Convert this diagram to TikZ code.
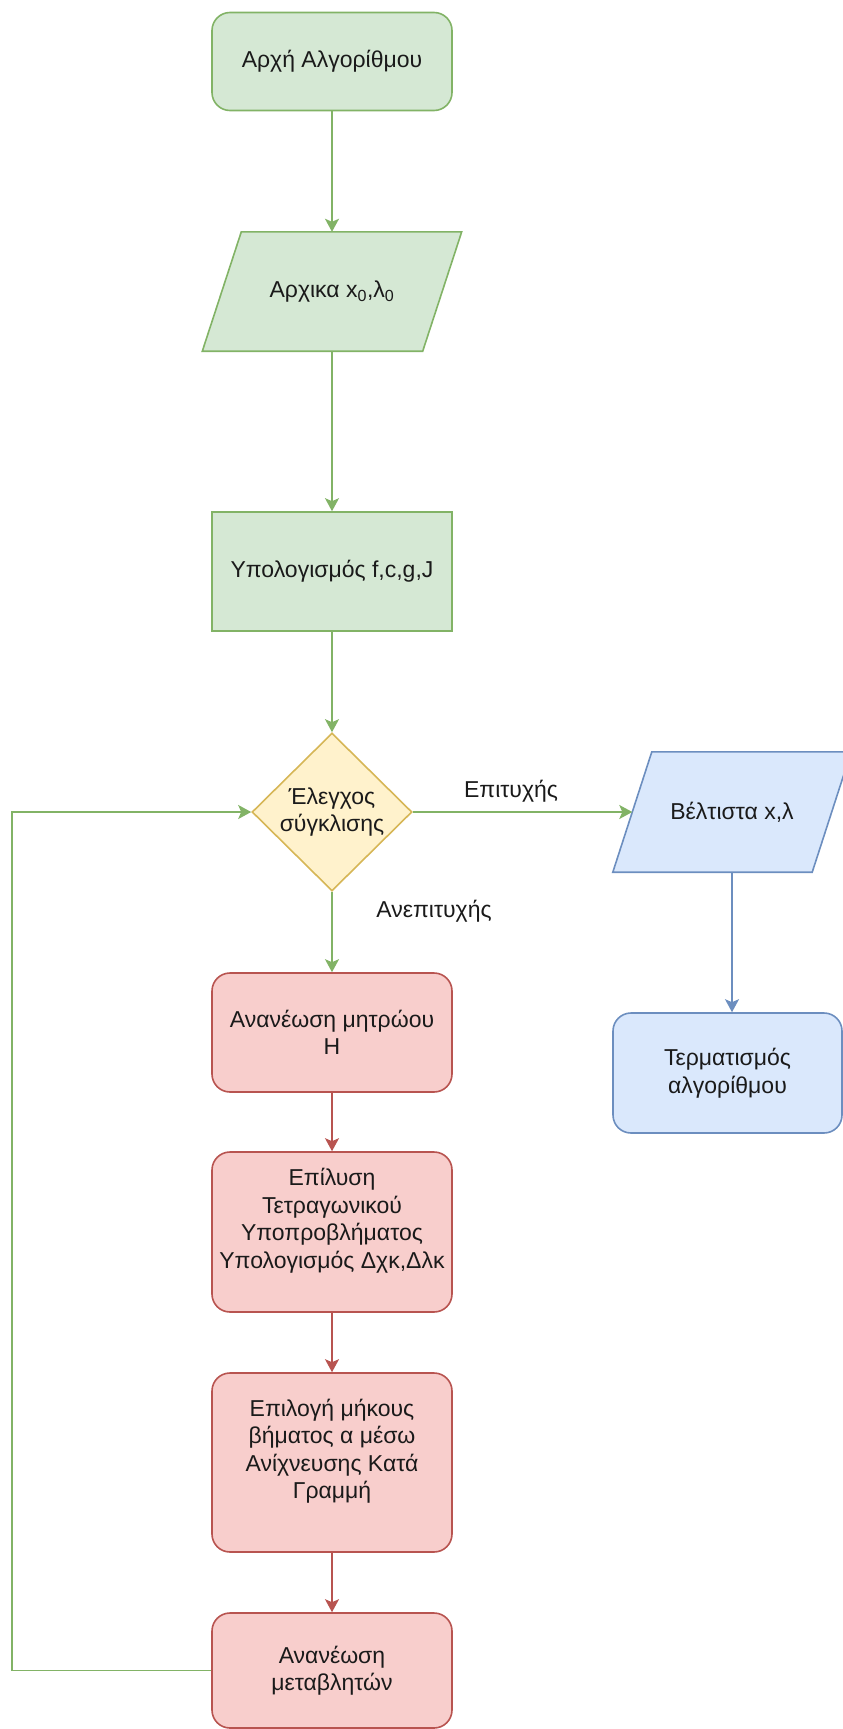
\documentclass[tikz,border=0pt]{standalone}
\usepackage{fontspec}
\setmainfont{Liberation Sans}
\usetikzlibrary{shapes.geometric,arrows.meta}

\definecolor{gfill}{HTML}{D5E8D4}
\definecolor{gline}{HTML}{82B366}
\definecolor{yfill}{HTML}{FFF2CC}
\definecolor{yline}{HTML}{D6B656}
\definecolor{rfill}{HTML}{F8CECC}
\definecolor{rline}{HTML}{B85450}
\definecolor{bfill}{HTML}{DAE8FC}
\definecolor{bline}{HTML}{6C8EBF}
\definecolor{ink}{HTML}{1A1A1A}

\tikzset{
  every node/.style={font=\fontsize{23}{27.5}\selectfont, text=ink, align=center},
  box/.style={rectangle, draw, line width=1.6pt, inner sep=0pt, minimum width=240pt},
  roundbox/.style={box, rounded corners=18pt},
  greenbox/.style={fill=gfill, draw=gline},
  redbox/.style={fill=rfill, draw=rline},
  bluebox/.style={fill=bfill, draw=bline},
  paraframe/.style={rectangle, inner sep=0pt},
  decision/.style={diamond, draw=yline, fill=yfill, line width=1.6pt, inner sep=0pt,
                   minimum width=160pt, minimum height=158pt},
  flow/.style={line width=1.6pt, -{Stealth[length=13pt,width=14pt,inset=3pt]}},
  gflow/.style={flow, draw=gline},
  rflow/.style={flow, draw=rline},
  bflow/.style={flow, draw=bline},
  edgelabel/.style={inner sep=0pt}
}

\begin{document}
\begin{tikzpicture}[x=1pt, y=-1pt]
\useasboundingbox (0,0) rectangle (843,1729);

% main column
\node[roundbox, greenbox, minimum height=98pt] (start) at (332,61.5) {Αρχή Αλγορίθμου};

\node[paraframe, minimum width=220pt, minimum height=119pt] (init) at (332,291.5) {};

\node[box, greenbox, minimum height=119pt] (eval) at (332,571.5) {Υπολογισμός f,c,g,J};

\node[decision] (check) at (332,812) {Έλεγχος\\σύγκλισης};

\node[roundbox, redbox, minimum height=119pt] (hess) at (332,1032.5) {Ανανέωση μητρώου\\H};
\node[roundbox, redbox, minimum height=160pt] (qp) at (332,1232)
  {Επίλυση\\Τετραγωνικού\\Υποπροβλήματος\\Υπολογισμός Δχκ,Δλκ\\\mbox{}};
\node[roundbox, redbox, minimum height=179pt] (ls) at (332,1462.5)
  {Επιλογή μήκους\\βήματος α μέσω\\Ανίχνευσης Κατά\\Γραμμή\\\mbox{}};
\node[roundbox, redbox, minimum height=115pt] (upd) at (332,1670.5) {Ανανέωση\\μεταβλητών};

% right column
\node[paraframe, minimum width=199pt, minimum height=120pt] (best) at (732,812) {};
\node[roundbox, bluebox, minimum width=229pt, minimum height=120pt] (term) at (727.5,1073)
  {Τερματισμός\\αλγορίθμου};

% parallelogram outlines drawn around their frames, then their texts
\begin{scope}[line width=1.6pt]
\path[fill=gfill, draw=gline]
  ([xshift=-19.5pt]init.south west) -- ([xshift=-19.5pt]init.south east)
  -- ([xshift=19.5pt]init.north east) -- ([xshift=19.5pt]init.north west) -- cycle;
\path[fill=bfill, draw=bline]
  ([xshift=-19.5pt]best.south west) -- ([xshift=-19.5pt]best.south east)
  -- ([xshift=19.5pt]best.north east) -- ([xshift=19.5pt]best.north west) -- cycle;
\end{scope}
\node (inittext) at (init) {Αρχικα x\textsubscript{0},λ\textsubscript{0}};
\node (besttext) at (best) {Βέλτιστα x,λ};

% connectors
\draw[gflow] (start.south) -- (init.north);
\draw[gflow] (init.south) -- (eval.north);
\draw[gflow] (eval.south) -- (check.north);
\draw[gflow] (check.east) -- (best.west);
\draw[gflow] (check.south) -- (hess.north);
\draw[rflow] (hess.south) -- (qp.north);
\draw[rflow] (qp.south) -- (ls.north);
\draw[rflow] (ls.south) -- (upd.north);
\draw[bflow] (best.south) -- (best.south |- term.north);

\coordinate (loopx) at (12,0);
\draw[gflow] (upd.west) -- (upd.west -| loopx) -- (check.west -| loopx) -- (check.west);

% branch labels
\node[edgelabel] (yes) at (511,791) {Επιτυχής};
\node[edgelabel] (no) at (434,911) {Ανεπιτυχής};
\end{tikzpicture}
\end{document}
